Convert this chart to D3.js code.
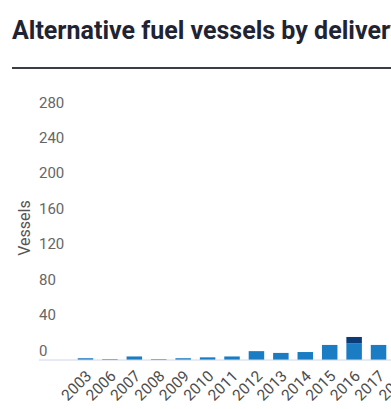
<!DOCTYPE html>
<html>
<head>
<meta charset="utf-8">
<script src="https://cdn.jsdelivr.net/npm/d3@7"></script>
<style>
  html, body { margin: 0; padding: 0; background: #ffffff; overflow: hidden; }
  svg { display: block; font-family: Roboto, "Noto Sans", sans-serif; }
</style>
</head>
<body>
<svg id="chart" width="560" height="409"></svg>
<script>
// Data
const years = ["2003","2006","2007","2008","2009","2010","2011","2012","2013","2014","2015","2016","2017","2018"];
const seriesMain = [2, 1, 4, 1, 2, 3, 4, 10, 8, 9, 17, 19, 17, 22];
const seriesSecond = [0, 0, 0, 0, 0, 0, 0, 0, 0, 0, 0, 7, 0, 0];
const yTicks = [0, 40, 80, 120, 160, 200, 240, 280];
const titleText = "Alternative fuel vessels by delivery year";
const yTitle = "Vessels";

const svg = d3.select("#chart");

// Title and rule
svg.append("text")
  .attr("x", 12).attr("y", 39)
  .attr("font-size", 25).attr("font-weight", 700)
  .attr("fill", "#1f2433")
  .text(titleText);
svg.append("line")
  .attr("x1", 12).attr("x2", 560)
  .attr("y1", 68).attr("y2", 68)
  .attr("stroke", "#3a3d45").attr("stroke-width", 2);

// Scales
const step = 24.42;
const x0 = 85.5 - step / 2;
const x = d3.scaleBand()
  .domain(years)
  .range([x0, x0 + step * years.length])
  .paddingInner(0.365)
  .paddingOuter(0.1825);

const y = d3.scaleLinear().domain([0, 280]).range([360, 112]);

// Stack
const rows = years.map((yr, i) => ({ year: yr, main: seriesMain[i], second: seriesSecond[i] }));
const stack = d3.stack().keys(["main", "second"])(rows);
const colors = { main: "#1a7dc4", second: "#0b3a78" };

svg.append("g").selectAll("g")
  .data(stack)
  .join("g")
  .attr("fill", d => colors[d.key])
  .selectAll("rect")
  .data(d => d)
  .join("rect")
  .attr("x", d => x(d.data.year))
  .attr("width", x.bandwidth())
  .attr("y", d => y(d[1]))
  .attr("height", d => Math.max(0, y(d[0]) - y(d[1])));

// Baseline
svg.append("line")
  .attr("x1", 39).attr("x2", 560)
  .attr("y1", y(0)).attr("y2", y(0))
  .attr("stroke", "#ccd6eb").attr("stroke-width", 1);

// Y axis labels (left aligned, above their value)
svg.append("g").selectAll("text")
  .data(yTicks)
  .join("text")
  .attr("x", 39)
  .attr("y", d => y(d) - 4.5)
  .attr("font-size", 15)
  .attr("fill", "#666666")
  .text(d => d);

// Y title
svg.append("text")
  .attr("transform", `translate(29.5, 228) rotate(-90)`)
  .attr("text-anchor", "middle")
  .attr("font-size", 16)
  .attr("fill", "#555555")
  .text(yTitle);

// X axis labels
const xAxis = d3.axisBottom(x).tickSize(0).tickPadding(0);
const gx = svg.append("g").attr("transform", `translate(0, ${y(0)})`).call(xAxis);
gx.select(".domain").remove();
gx.selectAll("text")
  .attr("font-size", 15.5)
  .attr("font-family", "Roboto, sans-serif")
  .attr("fill", "#4d4d4d")
  .attr("text-anchor", "end")
  .attr("dy", null)
  .attr("y", null)
  .attr("transform", "translate(7, 17) rotate(-45)");
</script>
</body>
</html>
